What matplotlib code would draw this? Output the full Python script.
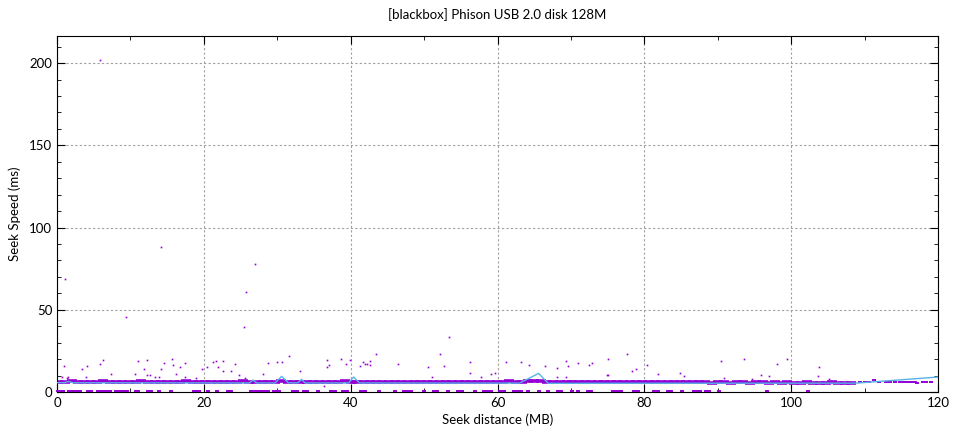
import matplotlib
matplotlib.use("Agg")
import matplotlib.pyplot as plt
from matplotlib.ticker import MultipleLocator

# seek test: distance (MB) vs seek time (ms)
title = "[blackbox] Phison USB 2.0 disk 128M"

# isolated samples above the main band
out_x = [5.9, 1.1, 14.2, 9.4, 27.0, 25.8, 25.5, 53.4, 43.4, 52.2, 56.3, 36.8, 38.7,
         39.3, 37.1, 36.8, 39.9, 41.7, 41.9, 42.2, 42.7, 42.7, 41.3, 46.5, 50.6, 52.7,
         1.0, 0.7, 1.3, 1.5, 3.4, 3.9, 4.1, 5.8, 6.3, 7.4, 10.6, 11.1, 12.2, 11.8, 12.3,
         12.7, 13.3, 13.9, 14.1, 14.6, 15.7, 15.8, 16.2, 16.7, 17.5, 17.5, 18.9, 19.7,
         20.4, 21.2, 21.6, 22.6, 21.9, 22.6, 23.7, 24.3, 24.8, 28.7, 25.6,
         30.0, 30.7, 31.6, 33.1, 28.1, 56.2, 51.1, 46.3, 36.3,
         61.2, 63.2, 64.3, 66.5, 68.1, 69.3, 69.6, 70.9, 72.5, 72.9, 75.0, 77.6, 78.3,
         78.8, 80.4, 81.8, 68.1, 69.3, 74.9, 75.1, 84.9, 85.4, 59.1, 59.7, 57.8,
         90.5, 93.6, 98.1, 99.5, 103.8, 95.9, 97.0, 103.6, 90.8, 94.6, 105.1]
out_y = [202, 68.5, 88, 45.4, 77.6, 60.6, 39.3, 33.2, 22.9, 22.9, 18.1, 19.3, 19.9,
         17.2, 16.2, 15.0, 19.3, 18.4, 17.2, 16.8, 18.7, 16.2, 15.6, 16.8, 15.0, 15.6,
         15.8, 9.1, 8.3, 9.3, 13.8, 9.3, 15.8, 17.0, 19.2, 10.9, 10.9, 18.6, 19.2, 13.8, 10.3,
         10.3, 9.3, 8.9, 13.8, 17.6, 19.9, 16.4, 11.1, 15.4, 17.6, 9.3, 8.5, 14.0,
         15.0, 18.1, 18.6, 18.6, 15.0, 13.0, 12.5, 17.2, 10.3, 17.8, 8.7,
         18.4, 18.1, 21.7, 12.5, 10.7, 11.3, 8.9, 6.9, 3.6,
         18.1, 18.1, 16.4, 15.8, 14.4, 18.6, 15.8, 17.4, 16.4, 17.4, 20.3, 22.9, 12.5,
         14.0, 16.2, 10.9, 8.9, 8.9, 10.3, 10.3, 11.3, 9.9, 10.9, 11.3, 9.4,
         18.6, 19.9, 17.0, 19.9, 15.0, 10.1, 9.5, 9.5, 8.3, 7.9, 8.1]

# dense band of typical seeks
band_x = [0.2, 1.1, 2.0, 2.8, 3.7, 4.6, 5.4, 6.3, 7.2, 8.1, 8.9, 9.8, 10.7, 11.5, 12.4,
          13.3, 14.1, 15.0, 15.9, 16.8, 17.6, 18.5, 19.3, 20.2, 21.0, 21.9, 22.8, 23.6,
          24.5, 25.4, 26.2, 27.1, 28.0, 28.8, 29.7, 30.5, 31.4, 32.3, 33.1, 34.0, 34.9,
          35.7, 36.6, 37.4, 38.3, 39.2, 40.0, 40.9, 41.8, 42.6, 43.5, 44.3, 45.2, 46.1,
          46.9, 47.8, 48.7, 49.5, 50.4, 51.2, 52.1, 53.0, 53.8, 54.7, 55.6, 56.4, 57.3,
          58.1, 59.0, 59.9, 60.7, 61.6, 62.5, 63.3, 64.2, 65.0, 65.9, 66.8, 67.6, 68.5,
          69.4, 70.2, 71.1, 71.9, 72.8, 73.7, 74.5, 75.4, 76.3, 77.1, 78.0, 78.8, 79.7,
          80.6, 81.4, 82.3, 83.2, 84.0, 84.9, 85.7, 86.6, 87.5, 88.3, 89.2, 90.1, 90.9,
          91.8, 92.6, 93.5, 94.4, 95.2, 96.1, 97.0, 97.8, 98.7, 99.5, 100.4, 101.3,
          102.1, 103.0, 103.9, 104.7, 105.6, 106.4, 107.3, 108.2]
band_y = [6.3, 6.1, 6.4, 6.0, 6.2, 6.3, 6.1, 6.5, 6.2, 6.0, 6.3, 6.1, 6.2, 6.4, 6.0,
          6.2, 6.1, 6.3, 6.2, 6.0, 6.4, 6.1, 6.2, 6.3, 6.0, 6.2, 6.1, 6.3, 6.2, 6.4,
          6.1, 6.0, 6.3, 6.2, 6.1, 6.4, 6.2, 6.0, 6.3, 6.1, 6.2, 6.0, 6.3, 6.1, 6.2,
          6.4, 6.0, 6.2, 6.1, 6.3, 6.0, 6.2, 6.1, 6.0, 6.3, 6.1, 6.2, 6.0, 6.1, 6.3,
          6.0, 6.2, 6.1, 6.0, 6.2, 6.1, 6.0, 6.3, 6.1, 6.0, 6.2, 6.4, 6.1, 6.3, 6.5,
          6.4, 6.6, 6.2, 6.0, 6.1, 6.0, 6.2, 5.9, 6.0, 6.1, 5.9, 6.0, 6.2, 5.9, 6.0,
          5.8, 6.0, 5.9, 6.1, 5.8, 5.9, 6.0, 5.8, 5.9, 5.8, 6.0, 5.9, 5.8, 5.7, 5.9,
          5.8, 5.7, 5.9, 5.8, 5.7, 5.8, 5.9, 5.7, 5.8, 5.7, 5.8, 5.6, 5.7, 5.8, 5.6,
          5.7, 5.6, 5.8, 5.7, 5.6, 5.7]

# sparse tail at the far end
tail_x = [109.4, 110.0, 110.6, 111.3, 111.9, 112.9, 113.5, 114.2, 114.8, 115.4, 115.9,
          116.3, 116.9, 117.2, 117.9, 118.4, 119.0]
tail_y = [5.8, 6.0, 5.9, 7.3, 5.8, 5.9, 6.0, 5.8, 6.1, 5.9, 5.8, 6.0, 5.9, 5.7, 5.9,
          6.0, 5.8]

# fast seeks right on the floor
floor_x = [0.1, 0.5, 0.8, 1.6, 2.0, 2.4, 2.8, 3.2, 4.2, 4.6, 5.6, 6.0, 6.4, 6.8, 7.2,
           8.0, 8.4, 8.8, 9.2, 9.6, 10.7, 11.1, 12.4, 12.8, 13.9, 15.5, 18.6, 19.0,
           19.4, 20.5, 21.8, 23.3, 23.7, 26.4, 26.8, 27.2, 27.6, 28.0, 28.4, 28.8,
           29.5, 29.9, 30.3, 32.2, 32.7, 33.6, 34.1, 35.5, 37.3, 37.8, 39.0, 39.5,
           41.4, 41.9, 43.8, 46.0, 47.2, 47.7, 48.2, 50.0, 51.3, 51.8, 53.3, 54.6,
           55.1, 56.9, 58.1, 58.6, 59.1, 60.4, 60.9, 62.2, 62.7, 63.2, 64.2, 65.6,
           66.9, 68.2, 68.7, 70.1, 71.0, 72.3, 72.8, 75.8, 76.3, 76.8, 78.6, 79.1,
           81.3, 81.8, 83.2, 83.7, 85.1, 86.7, 87.2, 87.6, 88.4, 88.8, 90.2, 96.7,
           102.3]
floor_y = [0.9] * len(floor_x)

# running average
avg_x = [0, 1.0, 1.6, 2.2, 26.2, 26.7, 27.2, 29.7, 30.6, 31.5, 32.8, 33.3, 33.8,
         39.7, 40.4, 41.2, 63.0, 65.6, 66.9, 108.9, 120]
avg_y = [5.7, 5.7, 6.4, 5.6, 5.5, 7.3, 5.5, 5.5, 9.5, 5.6, 5.5, 7.7, 5.5,
         5.5, 9.1, 5.5, 5.4, 11.3, 5.3, 5.4, 9.1]

purple = "#9400d3"
blue = "#56b4e9"

plt.rcParams['font.family'] = ['Lato', 'DejaVu Sans']
fig = plt.figure(figsize=(9.6, 4.32), dpi=100)
ax = fig.add_axes([57 / 960, 1 - 392 / 432, (938 - 57) / 960, (392 - 36) / 432])

ax.plot(floor_x, floor_y, ls='none', marker='_', ms=3.5, mew=1.4, color=purple,
        zorder=4, clip_on=False)
ax.plot(band_x, band_y, ls='none', marker='_', ms=7, mew=2.6, color=purple, zorder=2)
ax.plot(tail_x, tail_y, ls='none', marker='_', ms=2.5, mew=1.4, color=purple, zorder=2)
ax.plot(out_x, out_y, ls='none', marker='s', ms=1.2, mew=0, color=purple, zorder=2)
ax.plot(avg_x, avg_y, color=blue, lw=1, zorder=3)

ax.set_xlim(0, 120)
ax.set_ylim(0, 216.5)
ax.xaxis.set_major_locator(MultipleLocator(20))
ax.xaxis.set_minor_locator(MultipleLocator(10))
ax.yaxis.set_major_locator(MultipleLocator(50))
ax.yaxis.set_minor_locator(MultipleLocator(10))
ax.tick_params(which='both', direction='in', top=True, right=True, labelsize=9.5)
ax.tick_params(which='major', length=6)
ax.tick_params(which='minor', length=3)
ax.grid(True, which='major', color='#a0a0a0', ls=(0, (2, 2)), lw=0.8)
ax.set_axisbelow(True)

ax.set_title(title, fontsize=9.5, pad=12)
ax.set_xlabel("Seek distance (MB)", fontsize=9.5, labelpad=3)
ax.set_ylabel("Seek Speed (ms)", fontsize=9.5, labelpad=6)

fig.savefig("out.png", dpi=100)
